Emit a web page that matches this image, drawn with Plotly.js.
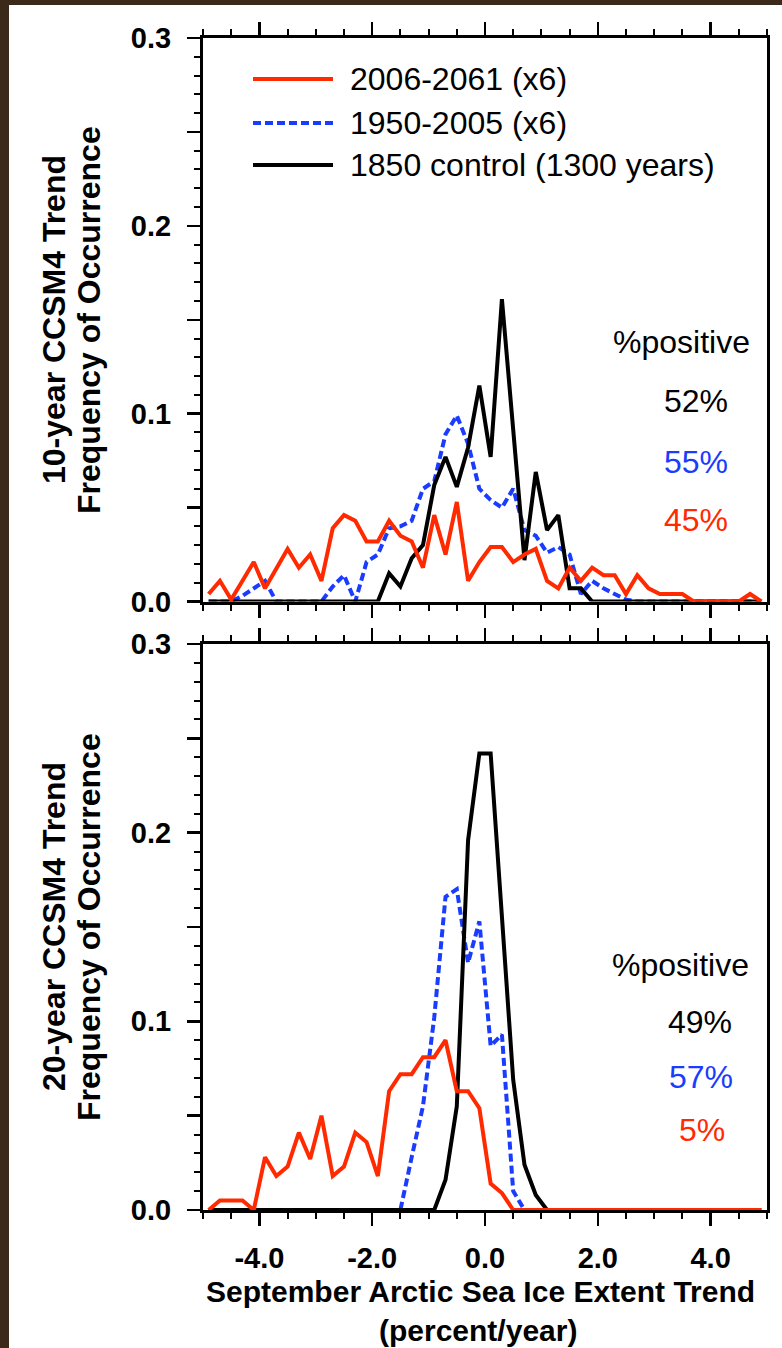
<!DOCTYPE html>
<html>
<head>
<meta charset="utf-8">
<script src="https://cdn.plot.ly/plotly-3.0.1.min.js"></script>
<style>html,body{margin:0;padding:0;background:#fff;}#chart{width:782px;height:1348px;}</style>
</head>
<body>
<div id="chart"></div>
<script>
// Bin centres of the trend histogram (percent/year)
const binCentres = [-4.9,-4.7,-4.5,-4.3,-4.1,-3.9,-3.7,-3.5,-3.3,-3.1,-2.9,-2.7,-2.5,-2.3,-2.1,-1.9,-1.7,-1.5,-1.3,-1.1,-0.9,-0.7,-0.5,-0.3,-0.1,0.1,0.3,0.5,0.7,0.9,1.1,1.3,1.5,1.7,1.9,2.1,2.3,2.5,2.7,2.9,3.1,3.3,3.5,3.7,3.9,4.1,4.3,4.5,4.7,4.9];

const seriesNames = ["2006-2061 (x6)", "1950-2005 (x6)", "1850 control (1300 years)"];

// 10-year trends (top panel)
const red10 = [0.004,0.011,0.001,0.011,0.021,0.007,0.018,0.028,0.018,0.025,0.011,0.039,0.046,0.043,0.032,0.032,0.043,0.035,0.032,0.018,0.046,0.025,0.053,0.011,0.021,0.029,0.029,0.021,0.025,0.028,0.011,0.007,0.018,0.011,0.018,0.014,0.014,0.004,0.014,0.007,0.004,0.004,0.004,0,0,0,0,0,0.004,0];
const blue10 = [0,0,0,0.003,0.007,0.011,0,0,0,0,0,0.008,0.014,0,0.021,0.025,0.039,0.040,0.043,0.060,0.064,0.089,0.099,0.084,0.060,0.054,0.050,0.060,0.038,0.035,0.026,0.029,0.025,0.004,0.011,0.007,0.004,0.001,0,0,0,0,0,0,0,0,0,0,0,0];
const black10 = [0,0,0,0,0,0,0,0,0,0,0,0,0,0,0,0,0.015,0.008,0.023,0.030,0.062,0.077,0.061,0.082,0.115,0.077,0.161,0.092,0.022,0.069,0.038,0.046,0.007,0.007,0,0,0,0,0,0,0,0,0,0,0,0,0,0,0,0];

// 20-year trends (bottom panel)
const red20 = [0,0.005,0.005,0.005,0,0.028,0.018,0.023,0.041,0.027,0.050,0.018,0.023,0.041,0.036,0.018,0.063,0.072,0.072,0.081,0.081,0.090,0.063,0.063,0.054,0.014,0.009,0,0,0,0,0,0,0,0,0,0,0,0,0,0,0,0,0,0,0,0,0,0,0];
const blue20 = [0,0,0,0,0,0,0,0,0,0,0,0,0,0,0,0,0,0,0.028,0.055,0.102,0.166,0.170,0.131,0.153,0.087,0.093,0.010,0,0,0,0,0,0,0,0,0,0,0,0,0,0,0,0,0,0,0,0,0,0];
const black20 = [0,0,0,0,0,0,0,0,0,0,0,0,0,0,0,0,0,0,0,0,0,0.016,0.055,0.196,0.242,0.242,0.155,0.069,0.024,0.008,0,0,0,0,0,0,0,0,0,0,0,0,0,0,0,0,0,0,0,0];

// Percent positive labels
const pctPos10 = ["52%", "55%", "45%"];
const pctPos20 = ["49%", "57%", "5%"];

const xTickVals = [-4, -2, 0, 2, 4];
const xTickText = ["-4.0", "-2.0", "0.0", "2.0", "4.0"];
const yTickVals = [0, 0.05, 0.1, 0.15, 0.2, 0.25, 0.3];
const yTickText = ["0.0", "", "0.1", "", "0.2", "", "0.3"];

const RED = "#ff2a00", BLUE = "#1a3cff", BLACK = "#000000";
const FONT = "Liberation Sans, Arial, sans-serif";

const W = 782, H = 1348;
const L = 203, R = 15, T = 38, B = 138;
const PW = W - L - R, PH = H - T - B;
const px2x = px => (px - L) / PW;
const py2y = py => (H - B - py) / PH;

function line(x, y, color, dash, xa, ya) {
  return {x: x, y: y, type: "scatter", mode: "lines", xaxis: xa, yaxis: ya,
    line: {color: color, width: 4, dash: dash}, hoverinfo: "skip"};
}

const data = [
  line(binCentres, blue10, BLUE, "8px,4px", "x", "y"),
  line(binCentres, black10, BLACK, "solid", "x", "y"),
  line(binCentres, red10, RED, "solid", "x", "y"),
  line(binCentres, blue20, BLUE, "8px,4px", "x2", "y2"),
  line(binCentres, black20, BLACK, "solid", "x2", "y2"),
  line(binCentres, red20, RED, "solid", "x2", "y2")
];

function xAxis(anchor, labels) {
  return {
    anchor: anchor, domain: [0, 1], range: [-5, 5],
    tickmode: "array", tickvals: xTickVals, ticktext: xTickText,
    showticklabels: labels, ticklabelstandoff: 7,
    tickfont: {family: FONT, size: 29, weight: "bold", color: "#000"},
    ticks: "outside", ticklen: 13, tickwidth: 2.5, tickcolor: "#000",
    minor: {tick0: 0, dtick: 0.5, ticks: "outside", ticklen: 6, tickwidth: 2, tickcolor: "#000", showgrid: false},
    showline: true, linewidth: 3, linecolor: "#000", mirror: "ticks",
    showgrid: false, zeroline: false, layer: "below traces", fixedrange: true
  };
}
function yAxis(anchor, domain) {
  return {
    anchor: anchor, domain: domain, range: [0, 0.3],
    tickmode: "array", tickvals: yTickVals, ticktext: yTickText,
    ticklabelstandoff: 10,
    tickfont: {family: FONT, size: 29, weight: "bold", color: "#000"},
    ticks: "outside", ticklen: 13, tickwidth: 2.5, tickcolor: "#000",
    minor: {tick0: 0, dtick: 0.01, ticks: "outside", ticklen: 6, tickwidth: 2, tickcolor: "#000", showgrid: false},
    showline: true, linewidth: 3, linecolor: "#000", mirror: true,
    showgrid: false, zeroline: false, layer: "below traces", fixedrange: true
  };
}

const annotations = [];
function txt(text, px, py, size, color, xanchor, bold, angle) {
  annotations.push({
    text: text, xref: "paper", yref: "paper", x: px2x(px), y: py2y(py),
    xanchor: xanchor, yanchor: "middle", showarrow: false, textangle: angle || 0,
    font: {family: FONT, size: size, color: color, weight: bold ? "bold" : "normal"}
  });
}

// Legend (manual)
const legendColors = [RED, BLUE, BLACK];
const legendDash = ["solid", "8px,4px", "solid"];
const legendY = [79, 123, 165];
const shapes = [
  {type: "rect", xref: "paper", yref: "paper", layer: "below",
   x0: px2x(9), x1: px2x(W + 5), y0: py2y(5), y1: py2y(H + 5),
   fillcolor: "#ffffff", line: {width: 0}}
];
for (let i = 0; i < 3; i++) {
  shapes.push({type: "line", xref: "paper", yref: "paper",
    x0: px2x(253), x1: px2x(333), y0: py2y(legendY[i]), y1: py2y(legendY[i]),
    line: {color: legendColors[i], width: 4, dash: legendDash[i]}});
  txt(seriesNames[i], 348, legendY[i], 32, "#000", "left", false);
}

// %positive blocks
txt("%positive", 752, 342, 32, "#000", "right", false);
const pctCols = [BLACK, BLUE, RED];
const pctY10 = [401, 462, 520];
for (let i = 0; i < 3; i++) txt(pctPos10[i], 730, pctY10[i], 32, pctCols[i], "right", false);
txt("%positive", 751, 965, 32, "#000", "right", false);
const pctY20 = [1022, 1077, 1130];
const pctR20 = [734, 735, 727];
for (let i = 0; i < 3; i++) txt(pctPos20[i], pctR20[i], pctY20[i], 32, pctCols[i], "right", false);

// Axis titles
txt("10-year CCSM4 Trend", 54, 320, 32, "#000", "center", true, -90);
txt("Frequency of Occurrence", 89, 320, 32, "#000", "center", true, -90);
txt("20-year CCSM4 Trend", 54, 927, 32, "#000", "center", true, -90);
txt("Frequency of Occurrence", 89, 927, 32, "#000", "center", true, -90);
txt("September Arctic Sea Ice Extent Trend", 480, 1291, 30, "#000", "center", true);
txt("(percent/year)", 478, 1330, 30, "#000", "center", true);

const layout = {
  width: W, height: H,
  margin: {l: L, r: R, t: T, b: B, pad: 0},
  paper_bgcolor: "#3b2a1a", plot_bgcolor: "#ffffff",
  showlegend: false,
  xaxis: xAxis("y", false),
  yaxis: yAxis("x", [py2y(601.5), 1]),
  xaxis2: xAxis("y2", true),
  yaxis2: yAxis("x2", [0, py2y(644)]),
  shapes: shapes,
  annotations: annotations
};

Plotly.newPlot("chart", data, layout, {displayModeBar: false, staticPlot: true});
</script>
</body>
</html>
